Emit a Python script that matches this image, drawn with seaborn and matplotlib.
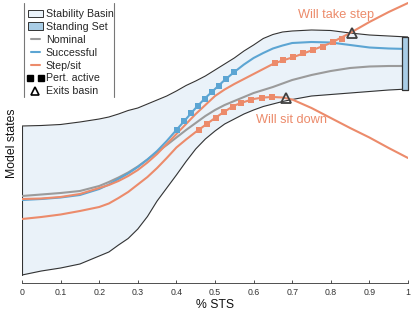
import matplotlib
matplotlib.use("Agg")
import pandas as pd
import seaborn as sns
import matplotlib.pyplot as plt
from matplotlib.patches import Patch
from matplotlib.lines import Line2D
from matplotlib.legend_handler import HandlerLine2D

# % STS sample points
pct = [0, 0.05, 0.1, 0.15, 0.2, 0.225, 0.25, 0.275, 0.3, 0.325, 0.35, 0.375, 0.4,
       0.425, 0.45, 0.475, 0.5, 0.525, 0.55, 0.575, 0.6, 0.625, 0.65, 0.675, 0.7,
       0.75, 0.8, 0.85, 0.9, 0.95, 1.0]

# stability basin boundaries
basin_upper = [1.57, 1.575, 1.585, 1.61, 1.64, 1.66, 1.69, 1.725, 1.75, 1.79, 1.83,
               1.87, 1.92, 1.975, 2.02, 2.07, 2.13, 2.19, 2.25, 2.32, 2.38, 2.445,
               2.485, 2.51, 2.52, 2.53, 2.525, 2.50, 2.48, 2.47, 2.46]
basin_lower = [0.08, 0.12, 0.15, 0.19, 0.27, 0.31, 0.38, 0.445, 0.54, 0.665, 0.82,
               0.95, 1.08, 1.215, 1.34, 1.44, 1.52, 1.59, 1.64, 1.69, 1.73, 1.765,
               1.79, 1.815, 1.835, 1.87, 1.885, 1.90, 1.915, 1.93, 1.94]

# standing set (end of motion)
standing_x = [0.985, 1.0]
standing_lo = 1.93
standing_hi = 2.46

# trajectories
nominal = [0.87, 0.885, 0.90, 0.92, 0.97, 1.01, 1.055, 1.105, 1.165, 1.235, 1.31,
           1.38, 1.455, 1.53, 1.60, 1.67, 1.73, 1.78, 1.82, 1.86, 1.90, 1.93, 1.96,
           1.995, 2.03, 2.08, 2.12, 2.15, 2.165, 2.17, 2.17]
successful = [0.83, 0.84, 0.855, 0.88, 0.94, 0.985, 1.04, 1.095, 1.16, 1.235, 1.32,
              1.42, 1.53, 1.64, 1.75, 1.85, 1.94, 2.03, 2.11, 2.185, 2.25, 2.30,
              2.345, 2.375, 2.40, 2.41, 2.405, 2.38, 2.355, 2.345, 2.34]
step = [0.84, 0.845, 0.86, 0.89, 0.95, 0.98, 1.02, 1.07, 1.13, 1.205, 1.29, 1.39,
        1.49, 1.59, 1.69, 1.78, 1.87, 1.935, 1.99, 2.04, 2.09, 2.14, 2.19, 2.225,
        2.255, 2.325, 2.40, 2.50, 2.61, 2.71, 2.80]
sit = [0.64, 0.66, 0.685, 0.72, 0.76, 0.795, 0.85, 0.91, 0.985, 1.06, 1.15, 1.25,
       1.355, 1.435, 1.51, 1.58, 1.65, 1.715, 1.775, 1.81, 1.84, 1.855, 1.86, 1.855,
       1.835, 1.75, 1.65, 1.55, 1.455, 1.35, 1.25]

# perturbation active samples
pert_succ_x = [0.4016, 0.4197, 0.4378, 0.456, 0.474, 0.492, 0.510, 0.5285, 0.549]
pert_succ_y = [1.535, 1.62, 1.70, 1.77, 1.845, 1.91, 1.975, 2.04, 2.11]
pert_step_x = [0.655, 0.676, 0.702, 0.728, 0.754, 0.780, 0.806, 0.829]
pert_step_y = [2.20, 2.23, 2.26, 2.30, 2.33, 2.36, 2.41, 2.44]
pert_sit_x = [0.4585, 0.479, 0.5026, 0.523, 0.5466, 0.567, 0.593, 0.622, 0.648]
pert_sit_y = [1.53, 1.59, 1.655, 1.71, 1.765, 1.80, 1.83, 1.85, 1.86]

# points where trajectories leave the basin
exit_x = [0.684, 0.855]
exit_y = [1.85, 2.50]

xticks = [0, 0.1, 0.2, 0.3, 0.4, 0.5, 0.6, 0.7, 0.8, 0.9, 1]
xtick_labels = ["0", "0.1", "0.2", "0.3", "0.4", "0.5", "0.6", "0.7", "0.8", "0.9", "1"]

c_basin = "#eaf2f9"
c_stand = "#a9cde6"
c_edge = "#333333"
c_gray = "#9b9b9b"
c_blue = "#5ca5d3"
c_orange = "#ec8b6b"

sns.set_theme(style="white")
plt.rcParams["font.family"] = ["Liberation Sans", "DejaVu Sans"]

fig = plt.figure(figsize=(4.15, 3.12), dpi=100)
ax = fig.add_axes([22 / 415, 29 / 312, 386 / 415, 283 / 312])

# basin
ax.fill_between(pct, basin_lower, basin_upper, color=c_basin, lw=0, zorder=1)
ax.plot(pct, basin_upper, color=c_edge, lw=0.8, zorder=2)
ax.plot(pct, basin_lower, color=c_edge, lw=0.8, zorder=2)
ax.plot([pct[0], pct[0]], [basin_lower[0], basin_upper[0]], color=c_edge, lw=0.8, zorder=2)

# standing set
ax.fill_between(standing_x, standing_lo, standing_hi, facecolor=c_stand,
                edgecolor=c_edge, lw=0.9, zorder=5, clip_on=False)

# trajectories
df = pd.DataFrame({
    "pct": pct * 4,
    "state": nominal + successful + step + sit,
    "traj": ["nominal"] * len(pct) + ["successful"] * len(pct)
            + ["step"] * len(pct) + ["sit"] * len(pct),
})
pal = {"nominal": c_gray, "successful": c_blue, "step": c_orange, "sit": c_orange}
sns.lineplot(data=df, x="pct", y="state", hue="traj", units="traj", estimator=None,
             sort=False, palette=pal, linewidth=1.5, legend=False, ax=ax, zorder=3)

for px, py, c in [(pert_succ_x, pert_succ_y, c_blue),
                  (pert_step_x, pert_step_y, c_orange),
                  (pert_sit_x, pert_sit_y, c_orange)]:
    sns.scatterplot(x=px, y=py, marker="s", s=14, color=c, linewidth=0, ax=ax, zorder=4)

ax.plot(exit_x, exit_y, ls="", marker="^", mfc="none", mec="#404040", mew=1.3, ms=7, zorder=6)

ax.text(0.813, 2.68, "Will take step", color=c_orange, fontsize=9.2, ha="center", va="center")
ax.text(0.698, 1.63, "Will sit down", color=c_orange, fontsize=9.2, ha="center", va="center")

ax.set_xlim(0, 1)
ax.set_ylim(0, 2.83)
ax.set_xticks(xticks)
ax.set_xticklabels(xtick_labels)
ax.set_yticks([])
ax.tick_params(axis="x", direction="in", length=2.5, width=0.6, color="#333333",
               labelsize=6.3, labelcolor="#333333", pad=3.5, bottom=True)
for s in ["left", "top", "right"]:
    ax.spines[s].set_visible(False)
ax.spines["bottom"].set_color("#333333")
ax.spines["bottom"].set_linewidth(0.6)
ax.set_xlabel("% STS", fontsize=8.8, labelpad=1.5, color="#111111")
ax.set_ylabel("Model states", fontsize=8.8, color="#111111")
ax.yaxis.set_label_coords(-0.01, 0.495)

# legend
handles = [
    Patch(facecolor=c_basin, edgecolor=c_edge, lw=0.7),
    Patch(facecolor=c_stand, edgecolor=c_edge, lw=0.7),
    Line2D([], [], color=c_gray, lw=1.5),
    Line2D([], [], color=c_blue, lw=1.5),
    Line2D([], [], color=c_orange, lw=1.5),
    Line2D([], [], color="black", ls="", marker="s", ms=3.8),
    Line2D([], [], ls="", marker="^", mfc="none", mec="black", mew=1.2, ms=6),
]
labels = ["Stability Basin", "Standing Set", "Nominal", "Successful", "Step/sit",
          "Pert. active", "Exits basin"]
fig.legend(handles, labels, loc="upper left", bbox_to_anchor=(28 / 415, 1 - 9 / 312),
           frameon=False, fontsize=7.7, borderpad=0, borderaxespad=0, labelspacing=0.27,
           handlelength=1.4, handletextpad=0.25, numpoints=2,
           handler_map={handles[5]: HandlerLine2D(numpoints=2, marker_pad=0.22),
                        handles[6]: HandlerLine2D(numpoints=1)})
for lx in [24 / 415, 114 / 415]:
    fig.add_artist(Line2D([lx, lx], [1 - 3 / 312, 1 - 97 / 312], transform=fig.transFigure,
                          color="#777777", lw=0.8))

fig.savefig("out.png", dpi=100)
